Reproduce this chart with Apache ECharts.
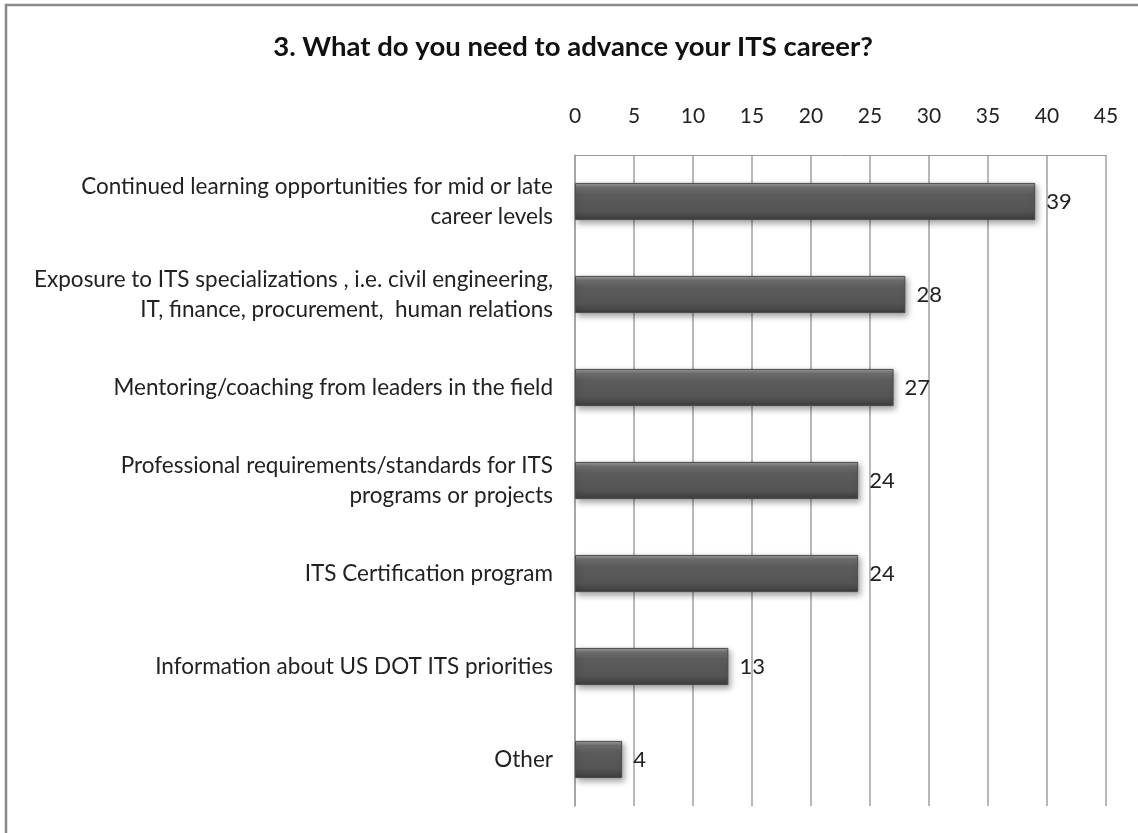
<!DOCTYPE html>
<html>
<head>
<meta charset="utf-8">
<script src="https://cdn.jsdelivr.net/npm/echarts@6/dist/echarts.min.js"></script>
<style>
  html, body { margin: 0; padding: 0; background: #fff; }
  #chart { width: 1138px; height: 833px; }
</style>
</head>
<body>
<div id="chart"></div>
<script>
// Survey question and answer options (top to bottom)
const titleText = '3. What do you need to advance your ITS career?';
const categories = [
  'Continued learning opportunities for mid or late\ncareer levels',
  'Exposure to ITS specializations , i.e. civil engineering,\nIT, finance, procurement,  human relations',
  'Mentoring/coaching from leaders in the field',
  'Professional requirements/standards for ITS\nprograms or projects',
  'ITS Certification program',
  'Information about US DOT ITS priorities',
  'Other'
];
// Number of responses per option
const responses = [39, 28, 27, 24, 24, 13, 4];
// Value axis range and step
const axisMin = 0;
const axisMax = 45;
const axisStep = 5;

const FONT = 'Lato, "Open Sans", sans-serif';

const chart = echarts.init(document.getElementById('chart'), null, { renderer: 'canvas' });

// Vertical gradient gives the bars their bevelled, rounded look
const barFill = new echarts.graphic.LinearGradient(0, 0, 0, 1, [
  { offset: 0, color: '#a0a0a0' },
  { offset: 0.12, color: '#707070' },
  { offset: 0.3, color: '#5c5c5c' },
  { offset: 0.75, color: '#545454' },
  { offset: 0.9, color: '#474747' },
  { offset: 1, color: '#3a3a3a' }
]);

chart.setOption({
  backgroundColor: '#ffffff',
  animation: false,
  title: {
    text: titleText,
    left: 568,
    textAlign: 'center',
    top: 28,
    textStyle: { fontFamily: FONT, fontSize: 27.5, fontWeight: 'bold', color: '#111' }
  },
  graphic: [{
    type: 'rect',
    shape: { x: 6, y: 5, width: 1300, height: 1000 },
    style: { fill: 'none', stroke: '#8a8a8a', lineWidth: 2.5 },
    silent: true
  }],
  grid: { left: 575, right: 32, top: 155, bottom: 27, containLabel: false },
  xAxis: {
    type: 'value',
    position: 'top',
    min: axisMin,
    max: axisMax,
    interval: axisStep,
    axisLine: { show: true, lineStyle: { color: '#9a9a9a', width: 1 } },
    axisTick: { show: false },
    axisLabel: { fontFamily: FONT, fontSize: 21, color: '#222', margin: 28 },
    splitLine: { show: true, lineStyle: { color: '#a0a0a0', width: 1.5 } }
  },
  yAxis: {
    type: 'category',
    data: categories,
    inverse: true,
    axisLine: { show: true, lineStyle: { color: '#a0a0a0', width: 1.5 } },
    axisTick: { show: false },
    axisLabel: {
      fontFamily: FONT, fontSize: 22.5, color: '#222', margin: 22,
      align: 'right', lineHeight: 30
    }
  },
  series: [{
    type: 'bar',
    data: responses,
    barWidth: '40%',
    itemStyle: {
      color: barFill,
      borderColor: '#4a4a4a',
      borderWidth: 1,
      shadowColor: 'rgba(0,0,0,0.35)',
      shadowBlur: 6,
      shadowOffsetX: 2,
      shadowOffsetY: 3
    },
    label: {
      show: true,
      position: 'right',
      distance: 11,
      fontFamily: FONT,
      fontSize: 22,
      color: '#222'
    }
  }]
});
</script>
</body>
</html>
